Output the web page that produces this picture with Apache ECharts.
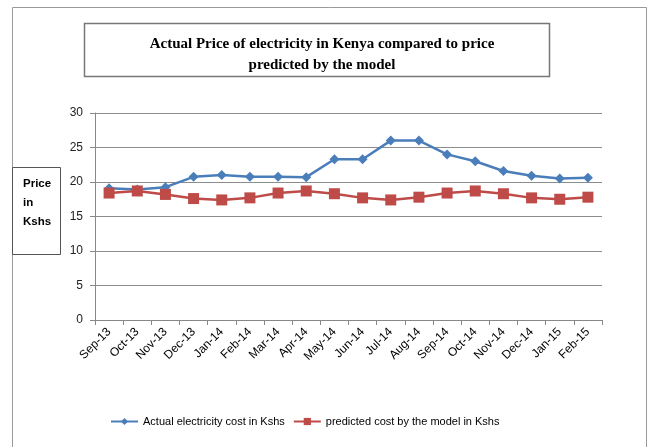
<!DOCTYPE html>
<html>
<head>
<meta charset="utf-8">
<script src="https://cdn.jsdelivr.net/npm/echarts@6/dist/echarts.min.js"></script>
<style>
  html, body { margin: 0; padding: 0; background: #fff; }
  #chart { width: 652px; height: 447px; }
</style>
</head>
<body>
<div id="chart"></div>
<script>
// 月份
const months = ['Sep-13', 'Oct-13', 'Nov-13', 'Dec-13', 'Jan-14', 'Feb-14', 'Mar-14', 'Apr-14', 'May-14',
  'Jun-14', 'Jul-14', 'Aug-14', 'Sep-14', 'Oct-14', 'Nov-14', 'Dec-14', 'Jan-15', 'Feb-15'];
// 实际电价
const actualCost = [19.1, 18.9, 19.25, 20.75, 21.0, 20.75, 20.75, 20.7, 23.3,
  23.3, 26.0, 26.0, 24.0, 23.0, 21.6, 20.9, 20.5, 20.6];
// 模型预测
const predictedCost = [18.4, 18.7, 18.2, 17.6, 17.4, 17.7, 18.4, 18.7, 18.3,
  17.7, 17.4, 17.8, 18.4, 18.7, 18.3, 17.7, 17.5, 17.8];
const seriesNames = ['Actual electricity cost in Kshs', 'predicted cost by the model in Kshs'];

const chart = echarts.init(document.getElementById('chart'));
const option = {
  backgroundColor: '#fff',
  animation: false,
  title: {
    text: 'Actual Price of electricity in Kenya compared to price\npredicted by the model',
    left: 317,
    top: 29,
    textAlign: 'center',
    textStyle: {
      fontFamily: 'Liberation Serif',
      fontWeight: 'bold',
      fontSize: 15,
      lineHeight: 21,
      color: '#000'
    }
  },
  graphic: [
    { // 外框
      type: 'rect',
      shape: { x: 12.5, y: 7.5, width: 634, height: 460 },
      style: { fill: 'none', stroke: '#999', lineWidth: 1 }
    },
    { // 标题框
      type: 'rect',
      shape: { x: 84.5, y: 23.5, width: 465, height: 53 },
      style: { fill: 'none', stroke: '#777', lineWidth: 1.5 }
    },
    { // 纵轴标题框
      type: 'rect',
      shape: { x: 12.5, y: 167.5, width: 48, height: 87 },
      style: { fill: '#fff', stroke: '#555', lineWidth: 1 }
    },
    {
      type: 'text',
      left: 23,
      top: 174,
      style: {
        text: 'Price\nin\nKshs',
        fontFamily: 'Liberation Sans',
        fontWeight: 'bold',
        fontSize: 11.5,
        lineHeight: 19,
        fill: '#000'
      }
    }
  ],
  legend: {
    bottom: 15,
    left: 105,
    itemGap: 8,
    itemWidth: 27,
    itemHeight: 9,
    textStyle: { fontFamily: 'Liberation Sans', fontSize: 11, color: '#000' },
    data: seriesNames
  },
  grid: {
    left: 95,
    right: 50,
    top: 113,
    bottom: 127
  },
  xAxis: {
    type: 'category',
    data: months,
    boundaryGap: true,
    axisLine: { lineStyle: { color: '#888' } },
    axisTick: { show: true, alignWithLabel: false, length: 5, lineStyle: { color: '#888' } },
    axisLabel: {
      rotate: 45,
      interval: 0,
      fontFamily: 'Liberation Sans',
      fontSize: 12,
      color: '#000',
      margin: 10
    }
  },
  yAxis: {
    type: 'value',
    min: 0,
    max: 30,
    interval: 5,
    axisLine: { show: true, lineStyle: { color: '#888' } },
    axisTick: { show: true, length: 5, lineStyle: { color: '#888' } },
    axisLabel: { fontFamily: 'Liberation Sans', fontSize: 12, color: '#222', margin: 12 },
    splitLine: { lineStyle: { color: '#8c8c8c', width: 1 } }
  },
  series: [
    {
      name: seriesNames[0],
      type: 'line',
      data: actualCost,
      symbol: 'diamond',
      symbolSize: 10,
      color: '#4a7ebb',
      lineStyle: { width: 2.5, color: '#4a7ebb' },
      itemStyle: { color: '#4a7ebb' }
    },
    {
      name: seriesNames[1],
      type: 'line',
      data: predictedCost,
      symbol: 'rect',
      symbolSize: 11,
      color: '#be4b48',
      lineStyle: { width: 2.5, color: '#be4b48' },
      itemStyle: { color: '#be4b48' }
    }
  ]
};
chart.setOption(option);
</script>
</body>
</html>
